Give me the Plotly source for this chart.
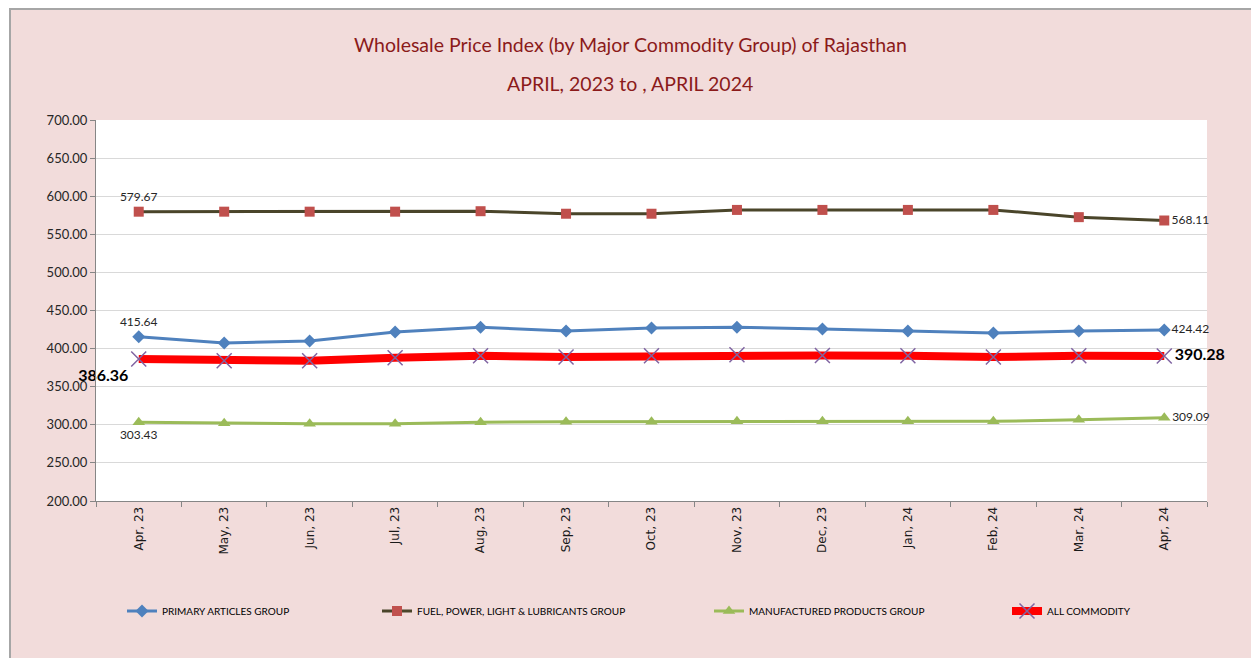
import plotly.graph_objects as go

months = ["Apr, 23", "May, 23", "Jun, 23", "Jul, 23", "Aug, 23", "Sep, 23", "Oct, 23",
          "Nov, 23", "Dec, 23", "Jan, 24", "Feb, 24", "Mar, 24", "Apr, 24"]
primary = [415.64, 407.3, 410.0, 421.8, 428.0, 423.0, 427.0, 428.0, 425.7, 423.0, 420.5, 423.0, 424.42]
fuel = [579.67, 579.7, 579.7, 579.7, 580.3, 577.0, 577.0, 582.0, 582.0, 582.0, 582.0, 572.5, 568.11]
manufactured = [303.43, 302.0, 301.5, 301.5, 303.5, 304.0, 304.0, 304.5, 304.5, 304.5, 304.5, 306.5, 309.09]
all_commodity = [386.36, 384.0, 384.0, 388.0, 390.5, 389.0, 390.5, 392.0, 391.0, 390.5, 389.0, 390.5, 390.28]
title_lines = ["Wholesale Price Index (by Major Commodity Group) of Rajasthan",
               "APRIL, 2023 to , APRIL 2024"]

FONT = "Lato, Carlito, Calibri, sans-serif"

def end_labels(vals):
    return [f"{v:.2f}" if i in (0, len(vals) - 1) else "" for i, v in enumerate(vals)]

def positions(first, last, n):
    return [first] + ["middle right"] * (n - 2) + [last]

# plot area in pixels: x 96..1207, y 120..501
def px_x(p):
    return (p - 96) / 1111

def px_y(p):
    return (501 - p) / 381

n = len(months)
fig = go.Figure()
fig.add_trace(go.Scatter(
    x=months, y=primary, name="PRIMARY ARTICLES GROUP", mode="lines+markers+text",
    line=dict(color="#4F81BD", width=3), marker=dict(symbol="diamond", size=10, color="#4F81BD"),
    text=end_labels(primary), textposition=positions("top center", "middle right", n),
    textfont=dict(family=FONT, size=12, color="#262626"), cliponaxis=False, legend="legend2"))
fig.add_trace(go.Scatter(
    x=months, y=fuel, name="FUEL, POWER, LIGHT & LUBRICANTS GROUP", mode="lines+markers+text",
    line=dict(color="#4A452A", width=3), marker=dict(symbol="square", size=10, color="#C0504D"),
    text=end_labels(fuel), textposition=positions("top center", "middle right", n),
    textfont=dict(family=FONT, size=12, color="#262626"), cliponaxis=False, legend="legend3"))
fig.add_trace(go.Scatter(
    x=months, y=manufactured, name="MANUFACTURED PRODUCTS GROUP", mode="lines+markers+text",
    line=dict(color="#9BBB59", width=3), marker=dict(symbol="triangle-up", size=11, color="#9BBB59"),
    text=end_labels(manufactured), textposition=positions("bottom center", "middle right", n),
    textfont=dict(family=FONT, size=12, color="#262626"), cliponaxis=False, legend="legend4"))
fig.add_trace(go.Scatter(
    x=months, y=all_commodity, name="ALL COMMODITY", mode="lines+markers+text",
    line=dict(color="#FF0000", width=8),
    marker=dict(symbol="x-thin-open", size=15, color="#8064A2", line=dict(color="#8064A2", width=1.5)),
    text=end_labels(all_commodity), textposition=positions("bottom left", "middle right", n),
    textfont=dict(family=FONT, size=16, color="#000000", weight="bold"), cliponaxis=False,
    legend="legend5"))

legend_common = dict(orientation="h", yanchor="middle", y=px_y(611), xanchor="left",
                     bgcolor="rgba(0,0,0,0)", font=dict(family=FONT, size=10, color="#000000"),
                     itemwidth=30)
fig.update_layout(
    width=1251, height=658,
    margin=dict(l=96, r=44, t=120, b=157),
    paper_bgcolor="#F2DCDB", plot_bgcolor="#FFFFFF",
    legend2=dict(x=px_x(122), **legend_common),
    legend3=dict(x=px_x(377), **legend_common),
    legend4=dict(x=px_x(709), **legend_common),
    legend5=dict(x=px_x(1007), **legend_common),
    annotations=[
        dict(text=title_lines[0], xref="paper", yref="paper", x=px_x(630), y=px_y(45),
             xanchor="center", yanchor="middle", showarrow=False,
             font=dict(family=FONT, size=19.5, color="#8B1A1A")),
        dict(text=title_lines[1], xref="paper", yref="paper", x=px_x(630), y=px_y(83),
             xanchor="center", yanchor="middle", showarrow=False,
             font=dict(family=FONT, size=19.5, color="#8B1A1A")),
    ],
    xaxis=dict(type="category", range=[-0.5, n - 0.5], tickangle=-90, tickson="boundaries",
               ticks="outside", ticklen=5, tickcolor="#868686", showline=True, linecolor="#868686",
               showgrid=False, tickfont=dict(family="DejaVu Sans, Verdana, sans-serif", size=12, color="#1A1A1A")),
    yaxis=dict(range=[200, 700], dtick=50, tickformat=".2f", ticks="outside", ticklen=5,
               tickcolor="#868686", showline=True, linecolor="#868686", gridcolor="#D9D9D9",
               zeroline=False, tickfont=dict(family=FONT, size=13, color="#262626")),
    shapes=[
        dict(type="rect", xref="paper", yref="paper", x0=px_x(0), x1=px_x(1251),
             y0=px_y(8), y1=px_y(0), fillcolor="#FFFFFF", line=dict(width=0), layer="above"),
        dict(type="rect", xref="paper", yref="paper", x0=px_x(0), x1=px_x(9),
             y0=px_y(658), y1=px_y(0), fillcolor="#FFFFFF", line=dict(width=0), layer="above"),
        dict(type="line", xref="paper", yref="paper", x0=px_x(9), x1=px_x(1251),
             y0=px_y(9), y1=px_y(9), line=dict(color="#A6A6A6", width=2), layer="above"),
        dict(type="line", xref="paper", yref="paper", x0=px_x(10), x1=px_x(10),
             y0=px_y(9), y1=px_y(658), line=dict(color="#A6A6A6", width=2), layer="above"),
    ],
)
fig.write_html("out.html", config={"displayModeBar": False},
               post_script="document.body.style.margin='0';")
